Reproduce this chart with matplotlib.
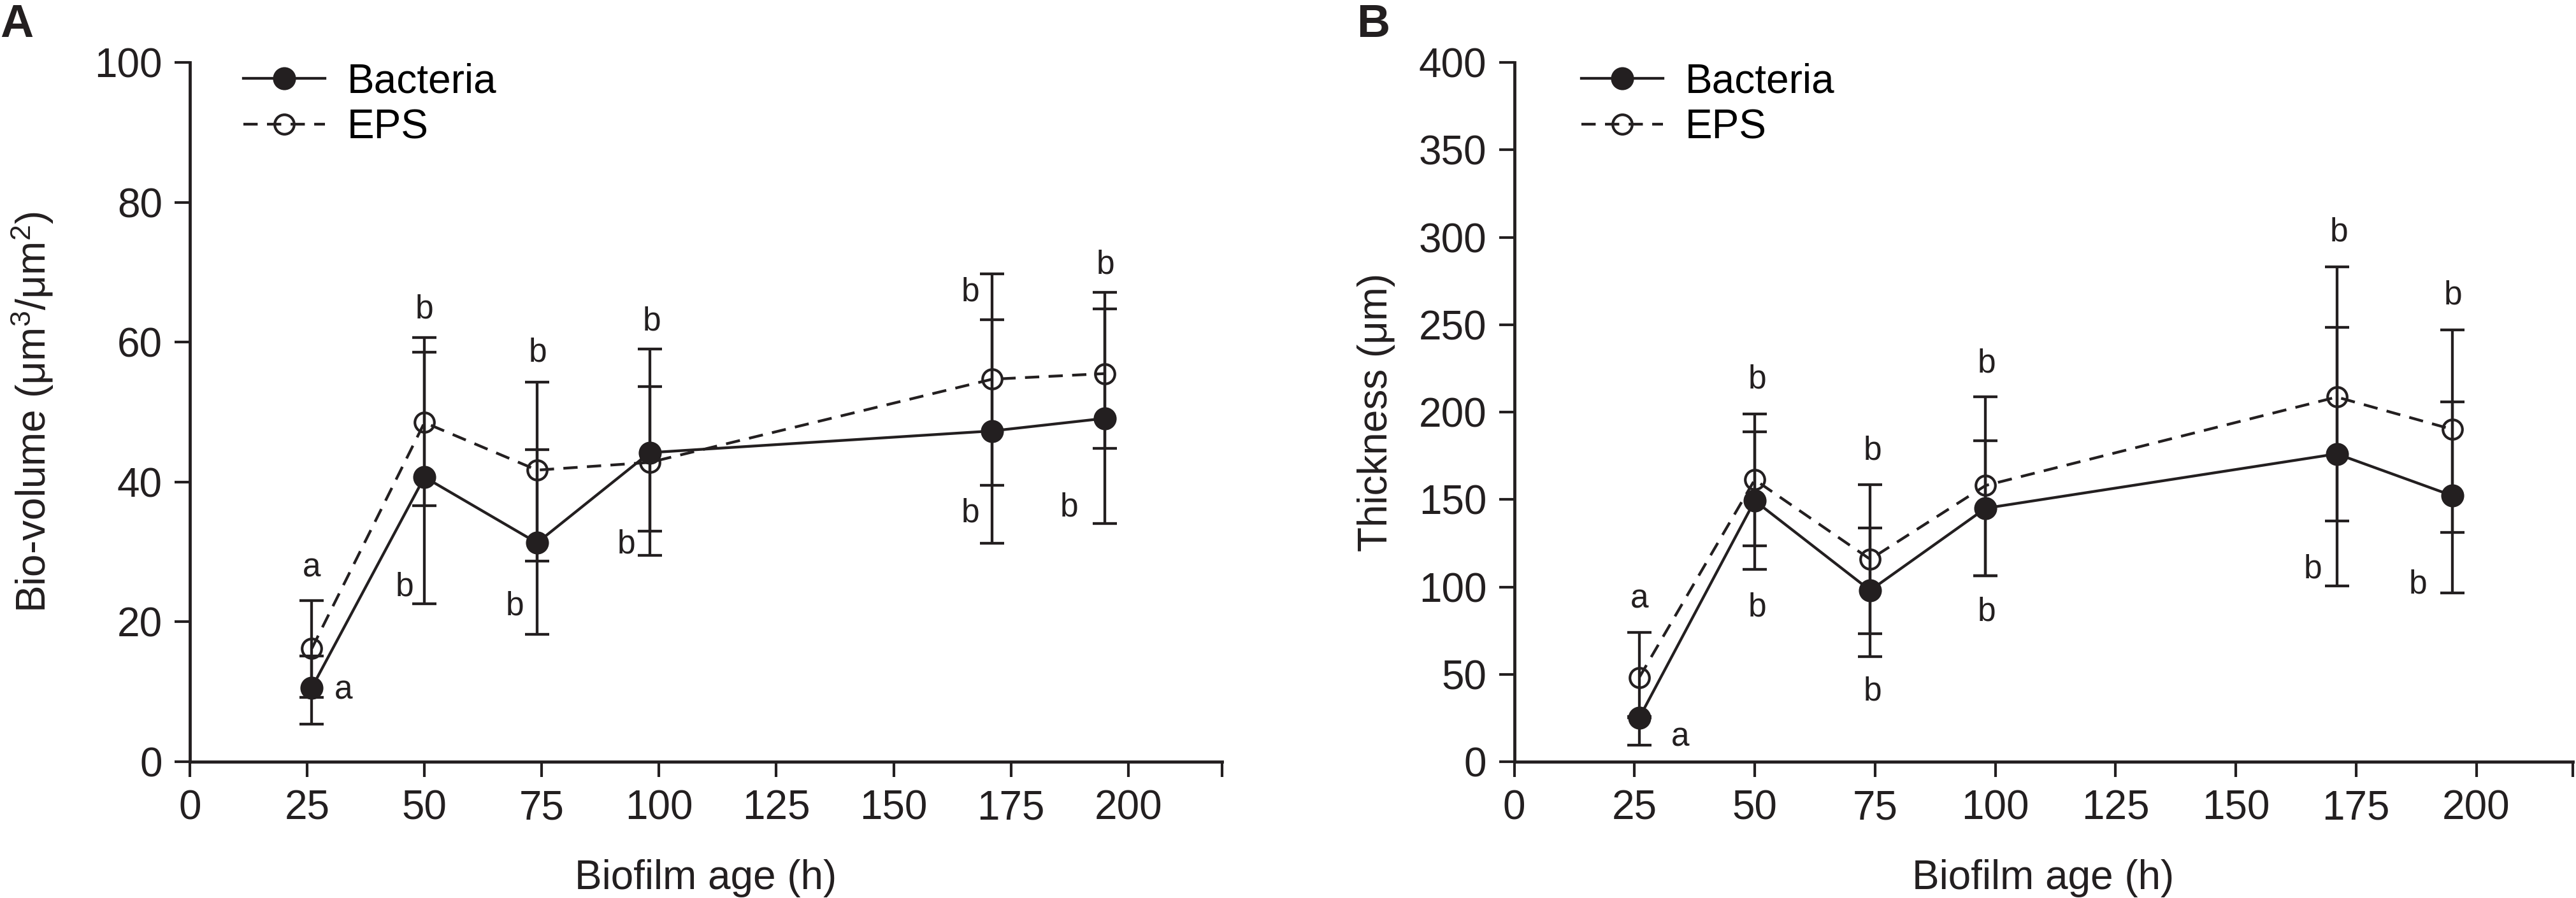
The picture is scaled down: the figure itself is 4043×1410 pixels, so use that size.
import numpy as np
import matplotlib
matplotlib.use('Agg')
import matplotlib.pyplot as plt

plt.rcParams['font.family'] = ['Liberation Sans', 'DejaVu Sans']
plt.rcParams['mathtext.fontset'] = 'custom'
plt.rcParams['mathtext.rm'] = 'Liberation Sans'
plt.rcParams['mathtext.default'] = 'regular'

INK = '#231f20'

# sampling times (h)
hours = [26, 50, 74, 98, 171, 195]

# panel A: bio-volume (um3/um2), mean with lower / upper error bar ends
a_bac = [10.6, 40.7, 31.3, 44.2, 47.3, 49.1]
a_bac_low = [5.4, 22.6, 18.2, 29.5, 31.2, 34.1]
a_bac_high = [15.1, 58.6, 44.6, 59.0, 63.2, 64.8]
a_eps = [16.2, 48.5, 41.7, 42.8, 54.7, 55.5]
a_eps_low = [9.2, 36.6, 28.7, 33.0, 39.5, 44.8]
a_eps_high = [23.0, 60.7, 54.3, 53.6, 69.8, 67.1]

# panel B: thickness (um)
b_bac = [25.1, 149.3, 98.0, 145.0, 176.1, 152.2]
b_bac_low = [9.4, 110.2, 60.0, 106.5, 100.6, 96.4]
b_bac_high = [25.1, 188.7, 133.8, 183.5, 248.6, 205.9]
b_eps = [48.2, 161.3, 115.8, 158.0, 208.6, 190.1]
b_eps_low = [25.9, 123.6, 73.4, 106.5, 137.8, 131.3]
b_eps_high = [74.1, 198.9, 158.6, 208.6, 283.0, 247.0]

# significance letters
a_letters = ['a', 'a', 'b', 'b', 'b', 'b', 'b', 'b', 'b', 'b', 'b', 'b']
a_letter_x = [25.9, 32.7, 50.0, 45.8, 74.1, 69.2, 98.4, 93.0, 166.3, 166.3, 195.2, 187.4]
a_letter_y = [27.7, 10.2, 64.7, 25.0, 58.5, 22.2, 62.9, 31.1, 67.1, 35.5, 71.0, 36.3]
b_letters = ['a', 'a', 'b', 'b', 'b', 'b', 'b', 'b', 'b', 'b', 'b', 'b']
b_letter_x = [26.1, 34.5, 50.5, 50.5, 74.5, 74.5, 98.2, 98.2, 171.4, 166.0, 195.1, 187.9]
b_letter_y = [92.9, 13.9, 218.4, 88.3, 177.9, 40.0, 227.7, 85.5, 302.7, 109.9, 266.7, 101.1]

x_ticks = [0, 25, 50, 75, 100, 125, 150, 175, 200, 220]
x_labels = ['0', '25', '50', '75', '100', '125', '150', '175', '200', '']

FS = 46
LW = 3.1


def draw_panel(ax, bac, bac_low, bac_high, eps, eps_low, eps_high,
               ymax, ystep, ylabel, letters, lx, ly, leg_x, ylab_x):
    err_b = [np.subtract(bac, bac_low), np.subtract(bac_high, bac)]
    err_e = [np.subtract(eps, eps_low), np.subtract(eps_high, eps)]
    for y, err in [(eps, err_e), (bac, err_b)]:
        ax.errorbar(hours, y, yerr=err, fmt='none', ecolor=INK,
                    elinewidth=LW, capsize=13.5, capthick=LW, zorder=2)
    eps_line, = ax.plot(hours, eps, color=INK, lw=LW, ls=(0, (5.2, 3.4)),
                        marker='o', ms=22, mfc='none', mec=INK, mew=3.0,
                        zorder=3)
    bac_line, = ax.plot(hours, bac, color=INK, lw=LW, marker='o', ms=23.5,
                        mfc=INK, mec=INK, mew=2.5, zorder=4)

    for t, x, y in zip(letters, lx, ly):
        ax.text(x, y, t, ha='center', va='center', fontsize=37, color=INK)

    ax.set_xlim(0, 220)
    ax.set_ylim(0, ymax)
    ax.set_xticks(x_ticks, x_labels)
    ax.set_yticks(np.arange(0, ymax + 1, ystep))
    for s in ['top', 'right']:
        ax.spines[s].set_visible(False)
    for s in ['left', 'bottom']:
        ax.spines[s].set_linewidth(3.5)
        ax.spines[s].set_color(INK)
    ax.tick_params(direction='out', length=17, width=3, color=INK,
                   labelsize=FS, labelcolor=INK, pad=14)
    ax.set_xlabel('Biofilm age (h)', fontsize=FS, color=INK, labelpad=36)
    ax.set_ylabel(ylabel, fontsize=FS, color=INK)
    ax.yaxis.set_label_coords(ylab_x, 0.5)

    ax.legend([bac_line, eps_line], ['Bacteria', 'EPS'], loc='upper left',
              bbox_to_anchor=(leg_x, 1.0), frameon=False, fontsize=FS,
              handlelength=2.0, handletextpad=0.55, labelspacing=0.2,
              borderpad=0, borderaxespad=0, numpoints=1)


fig = plt.figure(figsize=(40.43, 14.10), dpi=100)
ax_a = fig.add_axes([0.07371, 0.15177, 0.40069, 0.77872])
ax_b = fig.add_axes([0.58781, 0.15177, 0.41083, 0.77872])

draw_panel(ax_a, a_bac, a_bac_low, a_bac_high, a_eps, a_eps_low, a_eps_high,
           100, 20, 'Bio-volume (μm$^3$/μm$^2$)', a_letters, a_letter_x,
           a_letter_y, 0.052, -0.130)
draw_panel(ax_b, b_bac, b_bac_low, b_bac_high, b_eps, b_eps_low, b_eps_high,
           400, 50, 'Thickness (μm)', b_letters, b_letter_x, b_letter_y,
           0.0635, -0.112)

fig.text(0.0, 1 - 58 / 1410, 'A', fontsize=52, fontweight='bold',
         color=INK, va='baseline', ha='left')
fig.text(2129 / 4043, 1 - 58 / 1410, 'B', fontsize=52, fontweight='bold',
         color=INK, va='baseline', ha='left')

fig.savefig('out.png', dpi=100)
